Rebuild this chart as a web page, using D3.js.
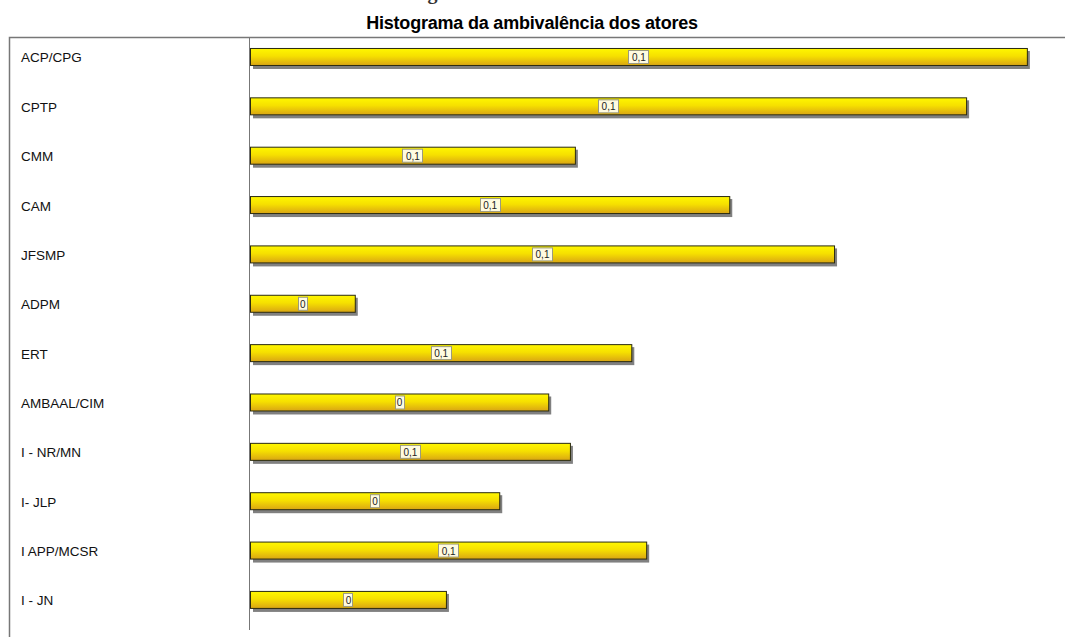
<!DOCTYPE html>
<html><head><meta charset="utf-8">
<script src="https://cdn.jsdelivr.net/npm/d3@7"></script>
<style>body{margin:0;background:#fff}svg{display:block}</style>
</head><body>
<script>
const categories = ["ACP/CPG","CPTP","CMM","CAM","JFSMP","ADPM","ERT","AMBAAL/CIM","I - NR/MN","I- JLP","I APP/MCSR","I - JN"];
const values = [0.1253,0.1155,0.0524,0.0773,0.0942,0.0169,0.0615,0.0481,0.0516,0.0402,0.0639,0.0316];
const chartTitle = "Histograma da ambivalência dos atores";
const clippedTitle = "Histograma";

const W = 1065, H = 637;
const svg = d3.select("body").append("svg").attr("width", W).attr("height", H);

const defs = svg.append("defs");
const g = defs.append("linearGradient").attr("id","barGrad").attr("x1",0).attr("y1",0).attr("x2",0).attr("y2",1);
g.append("stop").attr("offset","0%").attr("stop-color","#fff700");
g.append("stop").attr("offset","45%").attr("stop-color","#f6e000");
g.append("stop").attr("offset","100%").attr("stop-color","#d9a514");

// clipped outer title (only descender visible)
svg.append("text").attr("x",382).attr("y",-1.5)
  .attr("font-family","Liberation Serif").attr("font-weight","bold").attr("font-size",20)
  .attr("fill","#333").text(clippedTitle);

svg.append("text").attr("x",532).attr("y",29).attr("text-anchor","middle")
  .attr("font-family","Liberation Sans, Arial").attr("font-weight","bold").attr("font-size",18)
  .attr("letter-spacing","-0.2").attr("fill","#000").text(chartTitle);

// frame
svg.append("rect").attr("x",9.5).attr("y",37.5).attr("width",1200).attr("height",700)
  .attr("fill","none").attr("stroke","#777").attr("stroke-width",1.5);

const x = d3.scaleLinear().domain([0, 0.13]).range([250, 250 + 0.13*6200]);
const y = d3.scaleBand().domain(categories).range([32.3, 624.6]).padding(0);
const barH = 18;
const data = categories.map((c,i)=>({c, v: values[i]}));
const fmt = v => { const r = Math.round(v*10)/10; return String(r).replace(".", ","); };

// axis line
svg.append("line").attr("x1",249.5).attr("x2",249.5).attr("y1",37).attr("y2",630)
  .attr("stroke","#777").attr("stroke-width",1);

const row = svg.selectAll("g.row").data(data).enter().append("g").attr("class","row")
  .attr("transform", d => `translate(0,${y(d.c) + y.bandwidth()/2 - barH/2})`);

row.append("text").attr("x",21).attr("y", barH/2 + 5.5)
  .attr("font-family","Liberation Sans, Arial").attr("font-size",13.5).attr("fill","#111")
  .text(d => d.c);

row.append("rect").attr("x", x(0)+3).attr("y",3)
  .attr("width", d => x(d.v)-x(0)).attr("height", barH).attr("fill","#808080");
row.append("rect").attr("x", x(0)+0.5).attr("y",0.5)
  .attr("width", d => x(d.v)-x(0)).attr("height", barH-1)
  .attr("fill","url(#barGrad)").attr("stroke","#2a2a10").attr("stroke-width",1);

row.each(function(d){
  const gr = d3.select(this);
  const label = fmt(d.v);
  const cx = (x(0) + x(d.v))/2;
  const w = label.length > 1 ? 20 : 9;
  gr.append("rect").attr("x", Math.round(cx - w/2)+0.5).attr("y",2.5).attr("width",w).attr("height",13)
    .attr("fill","#fffbe0").attr("stroke","#9a9a80").attr("stroke-width",1);
  gr.append("text").attr("x", cx+0.5).attr("y",13).attr("text-anchor","middle")
    .attr("font-family","Liberation Sans, Arial").attr("font-size",10).attr("fill","#222")
    .text(label);
});
</script>
</body></html>
